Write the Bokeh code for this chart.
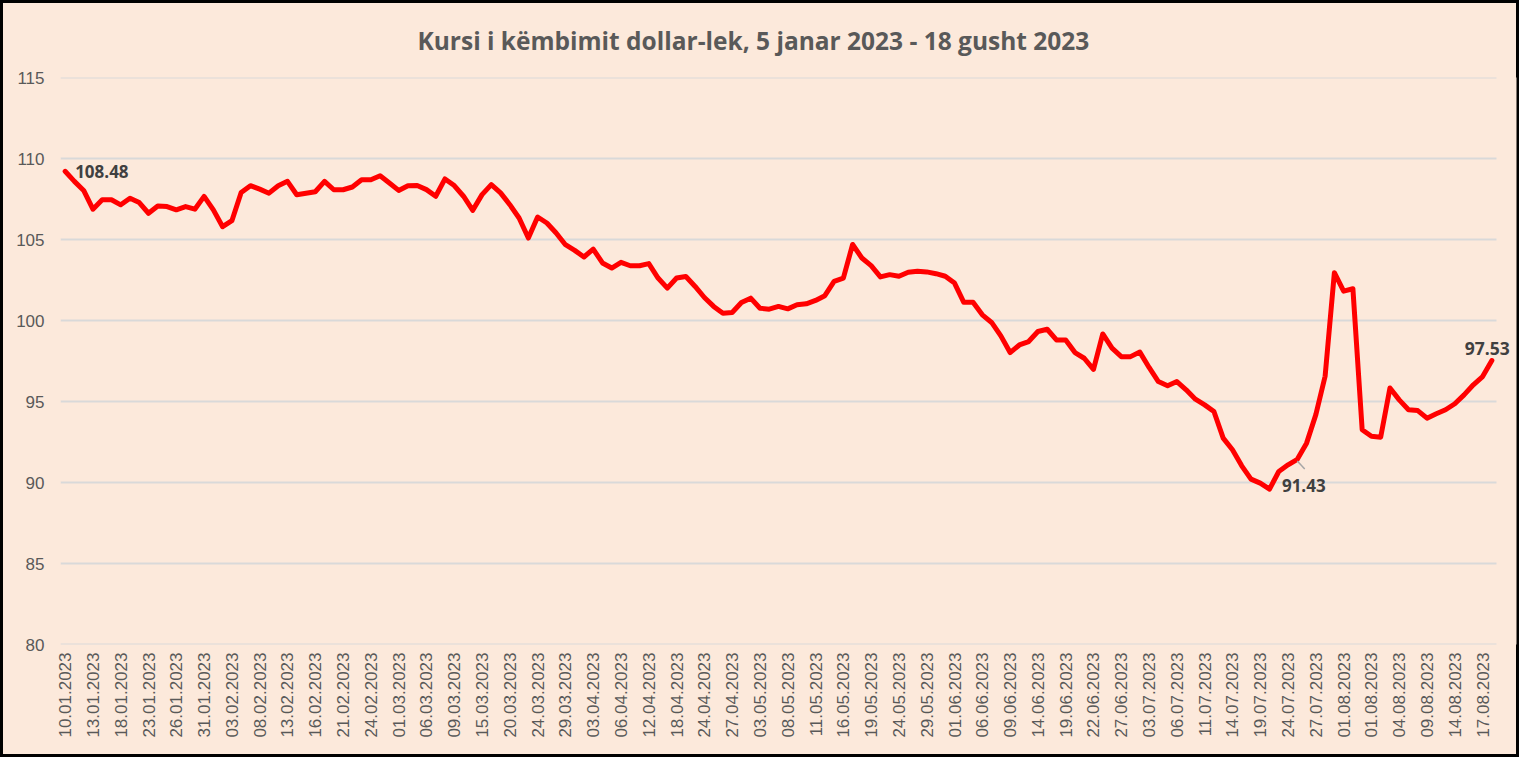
from bokeh.plotting import figure
from bokeh.models import FixedTicker, Label, Range1d
from bokeh.embed import file_html
from bokeh.resources import INLINE

title_text = "Kursi i këmbimit dollar-lek, 5 janar 2023 - 18 gusht 2023"

tick_labels = [
    "10.01.2023", "13.01.2023", "18.01.2023", "23.01.2023", "26.01.2023", "31.01.2023",
    "03.02.2023", "08.02.2023", "13.02.2023", "16.02.2023", "21.02.2023", "24.02.2023",
    "01.03.2023", "06.03.2023", "09.03.2023", "15.03.2023", "20.03.2023", "24.03.2023",
    "29.03.2023", "03.04.2023", "06.04.2023", "12.04.2023", "18.04.2023", "24.04.2023",
    "27.04.2023", "03.05.2023", "08.05.2023", "11.05.2023", "16.05.2023", "19.05.2023",
    "24.05.2023", "29.05.2023", "01.06.2023", "06.06.2023", "09.06.2023", "14.06.2023",
    "19.06.2023", "22.06.2023", "27.06.2023", "03.07.2023", "06.07.2023", "11.07.2023",
    "14.07.2023", "19.07.2023", "24.07.2023", "27.07.2023", "01.08.2023", "01.08.2023",
    "04.08.2023", "09.08.2023", "14.08.2023", "17.08.2023",
]

# USD/ALL exchange rate, one value per business day
rates = [
    109.21, 108.59, 108.03, 106.87, 107.45, 107.45, 107.14, 107.55, 107.28, 106.62,
    107.07, 107.03, 106.83, 107.03, 106.87, 107.66, 106.83, 105.79, 106.16, 107.90,
    108.32, 108.11, 107.86, 108.32, 108.59, 107.76, 107.86, 107.95, 108.59, 108.07,
    108.07, 108.24, 108.69, 108.69, 108.94, 108.49, 108.03, 108.32, 108.33, 108.08,
    107.67, 108.74, 108.33, 107.67, 106.80, 107.77, 108.39, 107.88, 107.15, 106.33,
    105.09, 106.39, 106.02, 105.40, 104.68, 104.33, 103.92, 104.41, 103.55, 103.24,
    103.59, 103.38, 103.38, 103.51, 102.62, 102.00, 102.62, 102.72, 102.10, 101.42,
    100.87, 100.45, 100.49, 101.11, 101.38, 100.76, 100.70, 100.87, 100.72, 100.97,
    101.03, 101.24, 101.53, 102.42, 102.62, 104.69, 103.86, 103.39, 102.69, 102.83,
    102.73, 102.98, 103.04, 103.00, 102.89, 102.73, 102.31, 101.12, 101.12, 100.35,
    99.88, 99.05, 98.02, 98.49, 98.70, 99.32, 99.46, 98.80, 98.80, 98.02,
    97.67, 96.98, 99.17, 98.29, 97.77, 97.77, 98.05, 97.10, 96.23, 95.97,
    96.23, 95.72, 95.14, 94.79, 94.38, 92.74, 92.02, 91.03, 90.21, 89.96,
    89.59, 90.68, 91.09, 91.43, 92.43, 94.19, 96.56, 102.95, 101.81, 101.96,
    93.26, 92.85, 92.80, 95.83, 95.10, 94.49, 94.44, 93.97, 94.24, 94.49,
    94.86, 95.41, 96.03, 96.54, 97.53,
]

label_points = [0, 133, 154]          # points carrying a data label
label_texts = ["108.48", "91.43", "97.53"]

y_ticks = [80, 85, 90, 95, 100, 105, 110, 115]

BG = "#FCE9DB"
GRID = "#D9D9D9"
TXT = "#595959"
LBL = "#404040"

W, H = 1519, 757
PLOT_L, PLOT_R, FRAME_R = 60, 1496, 1516   # plot area / extended frame (px)
n = len(rates)
x_end = -0.5 + n * (FRAME_R - PLOT_L) / (PLOT_R - PLOT_L)

x = list(range(n))

p = figure(
    width=W, height=H,
    output_backend="svg", toolbar_location=None,
    x_range=Range1d(-0.5, x_end),
    y_range=Range1d(y_ticks[0], y_ticks[-1]),
    min_border_left=PLOT_L, min_border_right=W - FRAME_R,
    min_border_top=77, min_border_bottom=113,
    background_fill_color=BG, border_fill_color=BG, border_fill_alpha=0,
    styles={"background-color": BG, "box-shadow": "inset 0 0 0 3px #000000"},
)
p.outline_line_color = None

p.title.text = title_text
p.title.align = "left"
p.title.offset = 357
p.title.standoff = 42
p.title.text_font = "Open Sans"
p.title.text_font_style = "bold"
p.title.text_font_size = "24.5px"
p.title.text_color = TXT

p.xgrid.grid_line_color = None
p.ygrid.grid_line_color = None

# horizontal gridlines across the plot area only
p.segment(x0=[-0.5] * len(y_ticks), x1=[n - 0.5] * len(y_ticks),
          y0=y_ticks, y1=y_ticks, line_color=GRID, line_width=2)

p.yaxis.ticker = FixedTicker(ticks=y_ticks)
p.xaxis.ticker = FixedTicker(ticks=[3 * i for i in range(len(tick_labels))])
p.xaxis.major_label_overrides = {3 * i: t for i, t in enumerate(tick_labels)}
p.xaxis.major_label_orientation = 3.14159265 / 2

for ax in (p.xaxis[0], p.yaxis[0]):
    ax.axis_line_color = None
    ax.major_tick_line_color = None
    ax.minor_tick_line_color = None
    ax.major_tick_out = 0
    ax.major_tick_in = 0
    ax.minor_tick_out = 0
    ax.major_label_text_font = "Liberation Sans"
    ax.major_label_text_font_size = "17px"
    ax.major_label_text_color = TXT
p.yaxis.major_label_standoff = 16
p.xaxis.major_label_standoff = 8

p.line(x, rates, line_color="#FF0000", line_width=5, line_join="round", line_cap="round")

# data labels
i0, i1, i2 = label_points
p.add_layout(Label(x=i0, y=rates[i0], text=label_texts[0], x_offset=10,
                   text_align="left", text_baseline="middle",
                   text_font="Open Sans", text_font_style="bold",
                   text_font_size="17px", text_color=LBL))
p.segment(x0=[i1], y0=[rates[i1] - 0.1], x1=[i1 + 0.8], y1=[rates[i1] - 0.6],
          line_color="#A6A6A6", line_width=1.5)
p.add_layout(Label(x=i1 + 0.7, y=rates[i1], text=label_texts[1], y_offset=-20,
                   text_align="center", text_baseline="top",
                   text_font="Open Sans", text_font_style="bold",
                   text_font_size="17px", text_color=LBL))
p.add_layout(Label(x=i2 - 0.5, y=rates[i2], text=label_texts[2], y_offset=6,
                   text_align="center", text_baseline="bottom",
                   text_font="Open Sans", text_font_style="bold",
                   text_font_size="17.5px", text_color=LBL))

open("out.html", "w").write(file_html(p, INLINE))
